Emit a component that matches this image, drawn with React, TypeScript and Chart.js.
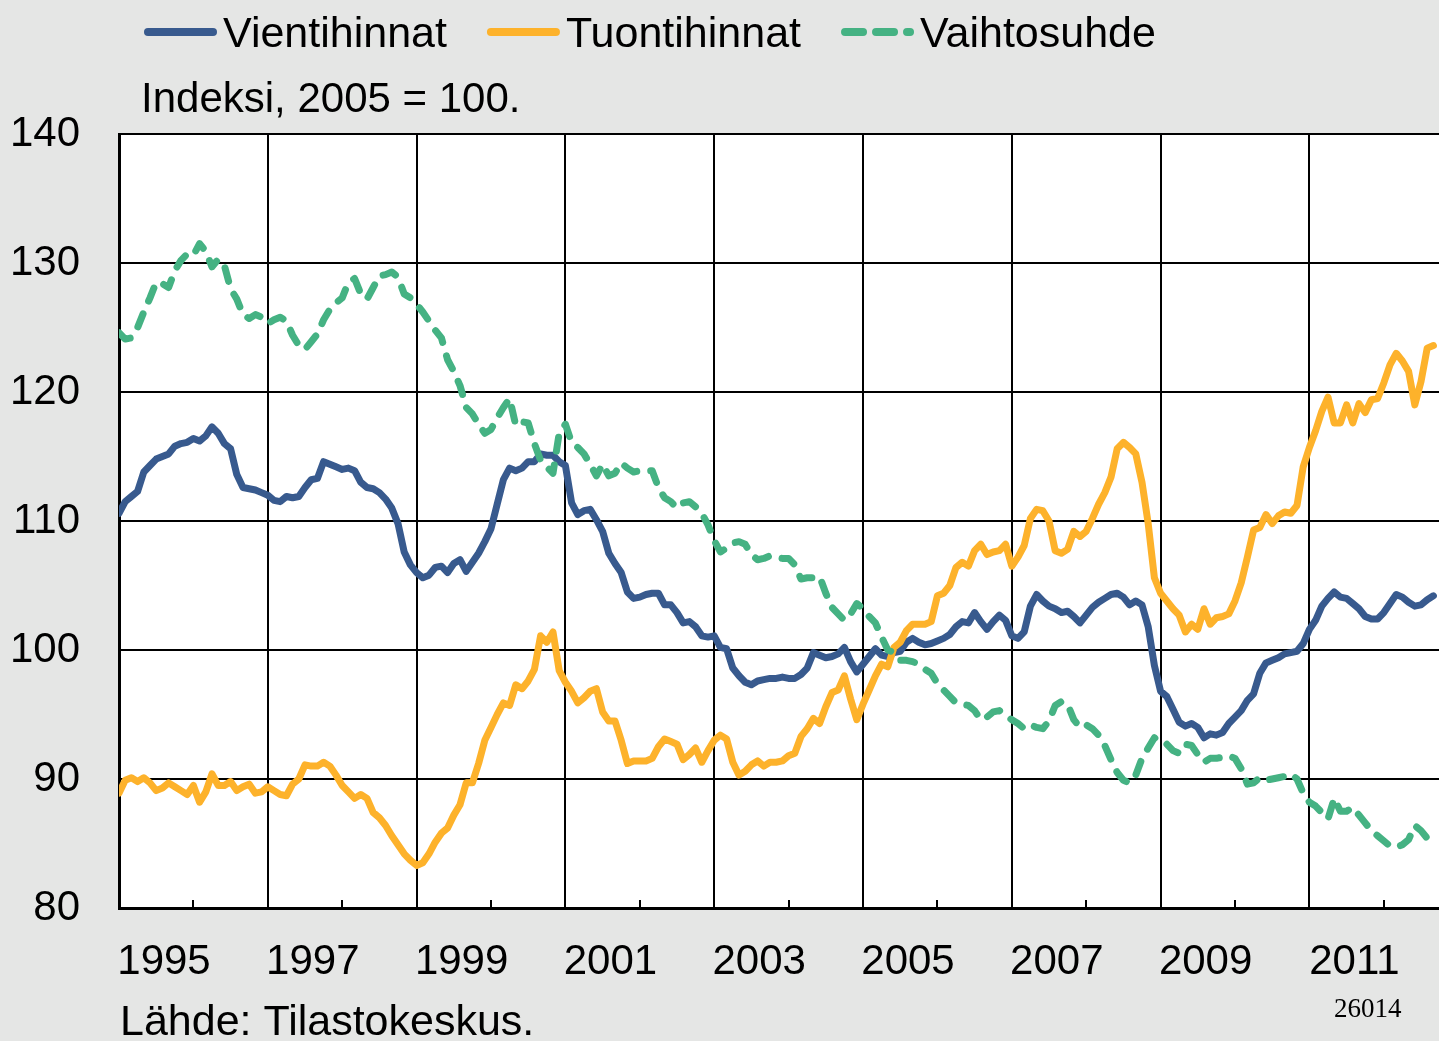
import React, { useEffect, useRef } from 'react';
import { Chart, registerables } from 'chart.js';

Chart.register(...registerables);

// ---------- data ----------
const START_YEAR = 1995; // first monthly point = January 1995
const X_MAX = 2012.742;
const X_LABEL_YEARS = [1995, 1997, 1999, 2001, 2003, 2005, 2007, 2009, 2011];
const Y_MIN = 80;
const Y_MAX = 140;
const Y_STEP = 10;

const SERIES_LABELS = ['Vientihinnat', 'Tuontihinnat', 'Vaihtosuhde'];

const VIENTIHINNAT = [
  110.6, 111.5, 111.9, 112.3, 113.8, 114.3, 114.8, 115.0, 115.2, 115.8, 116.0, 116.1,
  116.4, 116.2, 116.6, 117.3, 116.8, 116.0, 115.6, 113.6, 112.6, 112.5, 112.4, 112.2,
  112.0, 111.6, 111.5, 111.9, 111.8, 111.9, 112.6, 113.2, 113.3, 114.6, 114.4, 114.2,
  114.0, 114.1, 113.9, 113.0, 112.6, 112.5, 112.2, 111.7, 111.0, 109.8, 107.6, 106.6,
  106.0, 105.6, 105.8, 106.4, 106.5, 106.0, 106.7, 107.0, 106.1, 106.8, 107.5, 108.4,
  109.4, 111.3, 113.2, 114.1, 113.9, 114.1, 114.6, 114.6, 115.2, 115.1, 115.1, 114.6,
  114.3, 111.4, 110.5, 110.8, 110.9, 110.1, 109.2, 107.5, 106.7, 106.0, 104.5, 104.0,
  104.1, 104.3, 104.4, 104.4, 103.5, 103.5, 102.9, 102.1, 102.2, 101.8, 101.1, 101.0,
  101.1, 100.2, 100.1, 98.6, 98.0, 97.5, 97.3, 97.6, 97.7, 97.8, 97.8, 97.9,
  97.8, 97.8, 98.1, 98.6, 99.8, 99.6, 99.4, 99.5, 99.7, 100.2, 99.1, 98.3,
  98.9, 99.5, 100.1, 99.6, 99.5, 99.8, 99.9, 100.6, 100.9, 100.6, 100.4, 100.5,
  100.7, 100.9, 101.2, 101.8, 102.2, 102.1, 102.9, 102.2, 101.6, 102.2, 102.7, 102.3,
  101.1, 100.9, 101.4, 103.4, 104.3, 103.8, 103.4, 103.2, 102.9, 103.0, 102.6, 102.1,
  102.7, 103.3, 103.7, 104.0, 104.3, 104.4, 104.1, 103.5, 103.8, 103.5, 101.8, 98.8,
  96.8, 96.4, 95.4, 94.4, 94.1, 94.3, 94.0, 93.2, 93.5, 93.4, 93.6, 94.3,
  94.8, 95.3, 96.1, 96.6, 98.2, 99.0, 99.2, 99.4, 99.7, 99.8, 99.9, 100.5,
  101.6, 102.3, 103.4, 104.0, 104.5, 104.1, 104.0, 103.6, 103.2, 102.6, 102.4, 102.4,
  102.9, 103.6, 104.3, 104.1, 103.7, 103.4, 103.5, 103.9, 104.2,
];

const TUONTIHINNAT = [
  88.9, 89.9, 90.1, 89.8, 90.1, 89.7, 89.1, 89.3, 89.7, 89.4, 89.1, 88.8,
  89.5, 88.2, 89.0, 90.4, 89.5, 89.5, 89.8, 89.1, 89.4, 89.6, 88.9, 89.0,
  89.4, 89.1, 88.8, 88.7, 89.6, 90.0, 91.1, 91.0, 91.0, 91.3, 91.0, 90.3,
  89.5, 89.0, 88.5, 88.8, 88.5, 87.4, 87.0, 86.4, 85.6, 84.9, 84.2, 83.7,
  83.3, 83.5, 84.2, 85.1, 85.8, 86.2, 87.2, 88.0, 89.7, 89.7, 91.2, 93.0,
  94.0, 95.0, 95.9, 95.7, 97.3, 97.0, 97.6, 98.5, 101.1, 100.6, 101.4, 98.4,
  97.5, 96.8, 95.9, 96.3, 96.8, 97.0, 95.2, 94.5, 94.5, 93.0, 91.2, 91.4,
  91.4, 91.4, 91.6, 92.5, 93.1, 92.9, 92.7, 91.5, 91.9, 92.4, 91.3, 92.2,
  93.0, 93.4, 93.1, 91.3, 90.3, 90.6, 91.1, 91.4, 91.0, 91.3, 91.3, 91.4,
  91.8, 92.0, 93.3, 93.9, 94.7, 94.3, 95.6, 96.7, 96.9, 98.0, 96.2, 94.6,
  95.8, 96.9, 98.0, 98.9, 98.7, 100.2, 100.6, 101.5, 102.0, 102.0, 102.0, 102.2,
  104.2, 104.4, 105.0, 106.4, 106.8, 106.5, 107.7, 108.2, 107.4, 107.6, 107.7, 108.2,
  106.5, 107.2, 108.1, 110.2, 110.9, 110.8, 110.0, 107.7, 107.5, 107.8, 109.2, 108.8,
  109.2, 110.2, 111.3, 112.2, 113.4, 115.6, 116.1, 115.7, 115.2, 113.0, 109.8, 105.6,
  104.4, 103.8, 103.2, 102.7, 101.4, 102.0, 101.6, 103.2, 102.0, 102.5, 102.6, 102.8,
  103.8, 105.2, 107.2, 109.3, 109.5, 110.5, 109.8, 110.4, 110.7, 110.6, 111.2, 114.2,
  115.7, 117.0, 118.5, 119.6, 117.6, 117.6, 119.0, 117.6, 119.1, 118.4, 119.4, 119.5,
  120.7, 122.1, 123.0, 122.4, 121.6, 119.0, 120.8, 123.4, 123.6,
];

const VAIHTOSUHDE = [
  124.6, 124.1, 124.2, 125.0, 126.2, 127.3, 128.5, 128.4, 128.1, 129.4, 130.2, 130.7,
  130.6, 131.5, 130.9, 129.7, 130.3, 129.8, 128.0, 127.2, 126.0, 125.7, 126.0, 125.8,
  125.3, 125.6, 125.8, 125.5, 124.4, 123.6, 123.3, 123.9, 124.5, 125.6, 126.4, 126.9,
  127.3, 128.5, 128.8, 127.6, 127.2, 128.1, 129.0, 129.1, 129.3, 128.9, 127.6, 127.3,
  126.8, 126.2, 125.5, 124.8, 124.2, 122.5, 121.6, 120.5, 118.8, 118.3, 117.5, 116.8,
  117.1, 118.0, 118.8, 119.5, 117.4, 117.7, 117.6, 116.0, 114.7, 114.2, 113.7, 116.8,
  117.5, 116.1, 115.7, 115.2, 114.4, 113.5, 114.4, 113.5, 113.7, 114.5, 114.1, 113.8,
  113.9, 113.9, 113.9, 112.6, 111.8, 111.5, 111.0, 111.4, 111.5, 111.1, 110.6, 109.7,
  108.5, 107.6, 107.9, 108.3, 108.4, 108.2, 107.4, 107.0, 107.1, 107.3, 107.2, 107.1,
  107.1, 106.6, 105.5, 105.6, 105.6, 105.7, 104.4, 103.3, 102.8, 102.3, 102.8, 103.6,
  103.2, 102.6, 102.1, 101.0, 100.0, 99.8, 99.2, 99.2, 99.1, 98.9, 98.5, 98.2,
  97.4, 96.9, 96.4, 95.9, 95.8, 95.7, 95.3, 94.6, 94.8, 95.2, 95.3, 94.9,
  94.6, 94.3, 93.9, 94.2, 94.0, 93.9, 94.5, 95.7, 96.0, 95.8, 94.6, 94.0,
  94.2, 93.9, 93.4, 92.6, 91.5, 90.5, 89.9, 89.7, 90.3, 91.6, 92.4, 93.2,
  92.8, 92.7, 92.2, 92.0, 92.7, 92.6, 91.9, 91.3, 91.6, 91.6, 91.7, 91.8,
  91.6, 90.8, 89.6, 89.7, 90.1, 89.9, 90.0, 90.1, 90.2, 90.4, 90.0, 88.9,
  88.2, 87.9, 87.4, 86.9, 88.5, 87.5, 87.5, 87.8, 87.2, 86.6, 86.0, 85.6,
  85.2, 84.8, 84.7, 84.9, 85.3, 86.4, 86.0, 85.4, 84.6,
];

const SUBTITLE = 'Indeksi, 2005 = 100.';
const SOURCE = 'Lähde: Tilastokeskus.';
const CHART_CODE = '26014';

// ---------- styles ----------
const BG = '#e5e6e5';
const BLUE = '#385a8e';
const ORANGE = '#fdb22b';
const GREEN = '#45b283';
const SANS = '"Liberation Sans", Arial, Helvetica, sans-serif';
const SERIF = '"Liberation Serif", "Times New Roman", serif';

const toPoints = (vals: number[]) => vals.map((y, i) => ({ x: START_YEAR + i / 12, y }));

const backgroundPlugin = {
  id: 'pageBackground',
  beforeDraw(chart: any) {
    const { ctx, chartArea, width, height } = chart;
    ctx.save();
    ctx.fillStyle = BG;
    ctx.fillRect(0, 0, width, height);
    ctx.fillStyle = '#ffffff';
    ctx.fillRect(chartArea.left, chartArea.top, chartArea.right - chartArea.left, chartArea.bottom - chartArea.top);
    ctx.restore();
  },
};

const textPlugin = {
  id: 'legendAndTexts',
  afterDraw(chart: any) {
    const ctx = chart.ctx;
    ctx.save();
    ctx.font = `43px ${SANS}`;
    ctx.textBaseline = 'alphabetic';
    ctx.textAlign = 'left';
    ctx.fillStyle = '#000';
    let x = 144;
    const lineY = 32;
    const textBase = 47;
    chart.data.datasets.forEach((ds: any) => {
      ctx.beginPath();
      ctx.strokeStyle = ds.borderColor;
      ctx.lineWidth = 8;
      ctx.lineCap = 'round';
      ctx.setLineDash(ds.borderDash && ds.borderDash.length ? [18, 13] : []);
      ctx.moveTo(x + 4, lineY);
      ctx.lineTo(x + 69, lineY);
      ctx.stroke();
      ctx.setLineDash([]);
      ctx.fillText(ds.label, x + 79, textBase);
      x += 79 + ctx.measureText(ds.label).width + 40;
    });
    ctx.fillText(SOURCE, 120, 1035);
    ctx.font = `42px ${SANS}`;
    ctx.fillText(SUBTITLE, 141, 112);
    ctx.font = `27px ${SERIF}`;
    ctx.fillText(CHART_CODE, 1334, 1017);
    ctx.restore();
  },
};

export default function App() {
  const ref = useRef<HTMLCanvasElement>(null);

  useEffect(() => {
    document.body.style.margin = '0';
    document.body.style.background = BG;
    const canvas = ref.current;
    if (!canvas) return;
    const chart = new Chart(canvas, {
      type: 'line',
      data: {
        datasets: [
          {
            label: SERIES_LABELS[0],
            data: toPoints(VIENTIHINNAT),
            borderColor: BLUE,
            backgroundColor: BLUE,
            borderWidth: 7,
            pointRadius: 0,
            borderCapStyle: 'round',
            borderJoinStyle: 'round',
            order: 2,
          },
          {
            label: SERIES_LABELS[1],
            data: toPoints(TUONTIHINNAT),
            borderColor: ORANGE,
            backgroundColor: ORANGE,
            borderWidth: 7,
            pointRadius: 0,
            borderCapStyle: 'round',
            borderJoinStyle: 'round',
            order: 1,
          },
          {
            label: SERIES_LABELS[2],
            data: toPoints(VAIHTOSUHDE),
            borderColor: GREEN,
            backgroundColor: GREEN,
            borderWidth: 7,
            borderDash: [14, 14],
            pointRadius: 0,
            borderCapStyle: 'round',
            borderJoinStyle: 'round',
            order: 0,
          },
        ],
      } as any,
      options: {
        animation: false,
        responsive: false,
        devicePixelRatio: 1,
        layout: { padding: { top: 134, left: 0, right: 0, bottom: 53 } },
        plugins: {
          legend: { display: false },
          title: { display: false },
          tooltip: { enabled: false },
        },
        scales: {
          x: {
            type: 'linear',
            min: START_YEAR,
            max: X_MAX,
            ticks: {
              stepSize: 1,
              includeBounds: false,
              autoSkip: false,
              maxRotation: 0,
              minRotation: 0,
              labelOffset: 45,
              padding: 37,
              color: '#000',
              font: { family: SANS, size: 42 },
              callback: (v: any) => (X_LABEL_YEARS.includes(Number(v)) ? String(v) : ''),
            },
            grid: {
              color: (c: any) => (c.tick && Math.round(c.tick.value) % 2 === 1 ? '#000' : 'rgba(0,0,0,0)'),
              lineWidth: 2,
              drawTicks: true,
              tickLength: -8,
              tickColor: '#000',
              tickWidth: 2,
            },
            border: { color: '#000', width: 3 },
            afterFit: (s: any) => {
              s.height = 80;
            },
          },
          y: {
            min: Y_MIN,
            max: Y_MAX,
            ticks: {
              stepSize: Y_STEP,
              padding: 39,
              color: '#000',
              font: { family: SANS, size: 42 },
            },
            grid: { color: '#000', lineWidth: 2, drawTicks: false },
            border: { color: '#000', width: 3 },
            afterFit: (s: any) => {
              s.width = 119;
            },
          },
        },
      } as any,
      plugins: [backgroundPlugin, textPlugin],
    });
    return () => chart.destroy();
  }, []);

  return (
    <div style={{ width: 1439, height: 1041, background: BG, overflow: 'hidden' }}>
      <canvas ref={ref} width={1439} height={1041} style={{ display: 'block', width: 1439, height: 1041 }} />
    </div>
  );
}
